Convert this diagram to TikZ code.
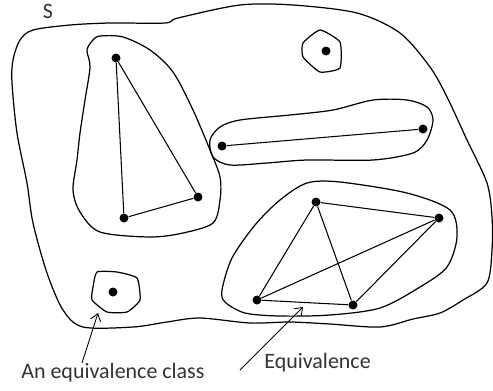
\documentclass[tikz,border=0pt]{standalone}
\usepackage{fontspec}
\setmainfont{Carlito}
\usetikzlibrary{arrows.meta}

\begin{document}
\begin{tikzpicture}[
    x=0.02cm, y=-0.02cm,
    dot/.style={circle, fill=black, inner sep=0pt, minimum size=0.18cm},
    class/.style={line width=0.7pt},
    rel/.style={line width=0.6pt},
    lbl/.style={font=\fontsize{12.5pt}{15pt}\selectfont, inner sep=0pt, text=black!80},
    >={Straight Barb[length=4pt, width=6pt]}
  ]
  \useasboundingbox (0,0) rectangle (493,390);

  % the set S
  \draw[class] plot[smooth cycle, tension=0.5] coordinates {(33,30) (70,25)
    (110,23) (165,23) (178,18) (240,5) (293,5) (357,13) (400,33) (430,67)
    (447,97) (467,140) (487,183) (492,217) (492,250) (487,283) (463,300)
    (440,313) (413,319) (380,327) (330,324) (290,322) (250,323) (200,318)
    (167,322) (133,327) (83,327) (63,310) (47,273) (33,223) (27,183)
    (17,133) (12,83) (13,60) (20,40)};
  \node[lbl, anchor=base] (setS) at (48,18) {S};

  % the equivalence classes
  \draw[class] plot[smooth cycle, tension=0.5] coordinates {(93,40) (100,36)
    (123,37) (150,50) (173,72) (193,110) (210,150) (220,177) (220,200)
    (213,223) (183,233) (150,237) (100,232) (80,212) (73,190) (77,160)
    (80,133) (85,100) (90,67) (87,50)};
  \draw[class] plot[smooth cycle, tension=0.3] coordinates {(303,43) (320,30)
    (340,42) (340,68) (320,72) (303,57)};
  \draw[class] plot[smooth cycle, tension=0.3] coordinates {(97,272) (117,272)
    (137,278) (140,300) (127,312) (107,312) (92,300) (93,287)};
  \draw[class] plot[smooth cycle, tension=0.5] coordinates {(210,140) (220,127)
    (240,120) (290,115) (333,110) (373,100) (407,100) (427,107) (433,120)
    (427,140) (413,153) (373,160) (307,160) (267,163) (230,165) (213,157)};
  \draw[class] plot[smooth cycle, tension=0.5] coordinates {(222,290) (232,258)
    (255,225) (280,200) (307,183) (340,182) (407,193) (450,210) (457,237)
    (447,267) (420,287) (380,308) (330,315) (280,316) (245,313) (225,302)};

  % elements
  \node[dot] (t1) at (116,58) {};
  \node[dot] (t2) at (124,218) {};
  \node[dot] (t3) at (198,197) {};
  \node[dot] (p1) at (326,51) {};
  \node[dot] (l1) at (222,146) {};
  \node[dot] (l2) at (423,129) {};
  \node[dot] (q1) at (316,202) {};
  \node[dot] (q2) at (439,218) {};
  \node[dot] (q3) at (257,300) {};
  \node[dot] (q4) at (353,305) {};
  \node[dot] (p2) at (113,292) {};

  % related pairs
  \foreach \a/\b in {t1/t2, t1/t3, t2/t3, l1/l2, q1/q2, q1/q3, q1/q4,
                     q2/q3, q2/q4, q3/q4}
    \draw[rel] (\a) -- (\b);

  % labels
  \node[lbl, anchor=base west] (clsText) at (21,378) {An equivalence class};
  \coordinate (clsFoot) at (82,363);
  \coordinate (clsTip) at (98,313);
  \draw[->, line width=0.5pt] (clsFoot) -- (clsTip);

  \node[lbl, anchor=base west] (eqText) at (264,368) {Equivalence};
  \coordinate (eqFoot) at (240,370);
  \coordinate (eqTip) at (303,307);
  \draw[->, line width=0.5pt] (eqFoot) -- (eqTip);
\end{tikzpicture}
\end{document}
